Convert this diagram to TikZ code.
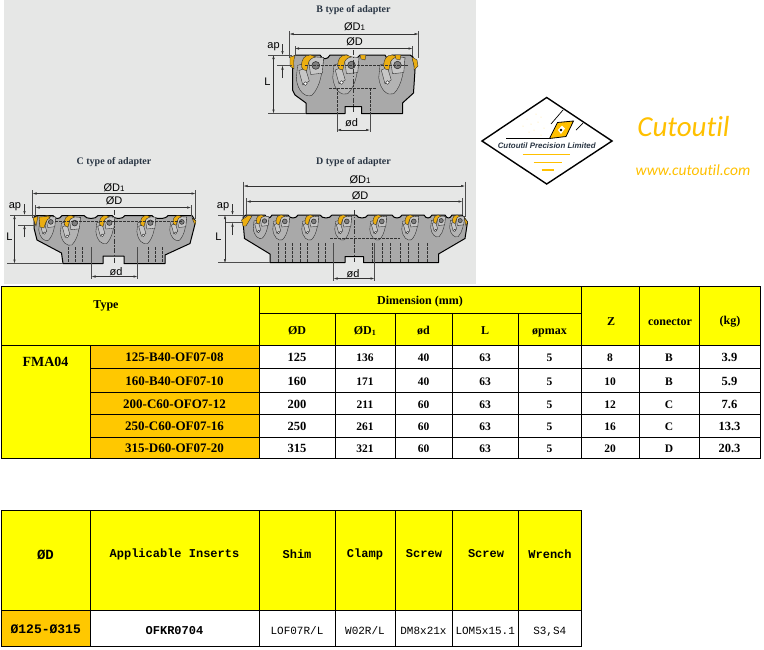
\documentclass[tikz,border=0pt]{standalone}
\usepackage{fontspec}
\setmainfont{Liberation Serif}
\setsansfont{Liberation Sans}
\setmonofont{Liberation Mono}
\newfontfamily\logofont[Ligatures=NoCommon]{Carlito}
\usetikzlibrary{arrows.meta}
\definecolor{panelgray}{HTML}{E6E7E6}
\definecolor{bodygray}{HTML}{A9A9A9}
\definecolor{pocketgray}{HTML}{B3B3B3}
\definecolor{seatgray}{HTML}{C6C6C6}
\definecolor{insertyellow}{HTML}{EBAE12}
\definecolor{headyellow}{HTML}{FFFF00}
\definecolor{typeorange}{HTML}{FFC800}
\definecolor{logoyellow}{HTML}{FFC000}
\definecolor{titleblue}{HTML}{2A3644}
\newcommand{\tcell}[7]{\node[#1,minimum width={(#5-#3)*1pt},minimum height={(#6-#4)*1pt}] (#2) at ({(#3+#5)/2},{(#4+#6)/2}) {#7};}
\begin{document}
\begin{tikzpicture}[x=1pt,y=-1pt,
	cellbox/.style={draw=black,line width=0.8pt,inner sep=0pt,text height=10pt,text depth=0pt,font=\fontsize{12}{12}\selectfont\bfseries},
	headcell/.style={cellbox,fill=headyellow},
	typecell/.style={cellbox,fill=typeorange},
	datacell/.style={cellbox,fill=white},
	monohead/.style={cellbox,fill=headyellow,font=\fontsize{12}{12}\selectfont\ttfamily\bfseries},
	monocell/.style={cellbox,fill=white,text height=12pt,font=\fontsize{11}{11}\selectfont\ttfamily\mdseries},
	celltext/.style={inner sep=0pt,font=\fontsize{12}{12}\selectfont\bfseries},
	adaptertitle/.style={inner sep=0pt,text=titleblue,font=\fontsize{10}{10}\selectfont\bfseries},
	dimtext/.style={inner sep=0pt,font=\fontsize{11}{11}\selectfont\sffamily},
	dimline/.style={line width=0.5pt,black!80,{Latex[length=4pt,width=2.4pt]}-{Latex[length=4pt,width=2.4pt]}},
	arrowline/.style={line width=0.5pt,black!80,-{Latex[length=4pt,width=2.4pt]}},
	extline/.style={line width=0.5pt,black!70},
	hiddenline/.style={line width=0.5pt,black!80,dash pattern=on 2.5pt off 1.5pt},
	centerline/.style={line width=0.5pt,black!80,dash pattern=on 5pt off 1.5pt on 1.5pt off 1.5pt},
	thinline/.style={line width=0.35pt,black!85},
	cutterbody/.style={line width=1pt,black,fill=bodygray,line join=round},
	pics/tooth/.style={code={
		\draw[thinline,fill=pocketgray] (12,2) .. controls (11,12) and (10,24) .. (3,31) .. controls (-2,33) and (-8,28) .. (-9,18) -- (-8,8) -- cycle;
		\draw[thinline,fill=seatgray] (0,1) -- (12,2) -- (11,14) -- (2,15) -- cycle;
		\draw[thinline,fill=seatgray] (-7,12) -- (-2,10) -- (1,20) -- (-4,23) -- cycle;
		\draw[thinline,fill=white] (-2,22) circle (1.5);
		\draw[line width=0.6pt,black!80,fill=gray] (6,8) circle (3);
		\draw[thinline,fill=insertyellow] (-5,9) .. controls (-5,3) and (-3,0) .. (2,0) -- (6,1.5) .. controls (3,2) and (0,4) .. (0,8) -- (-1,12) .. controls (-3,12) and (-5,11) .. cycle;
	}}]
	\useasboundingbox (0,0) rectangle (764,649);
	\fill[panelgray] (4,0) rectangle (476,284);

	% adapter B
	\node[adaptertitle] (titleb) at (353.5,10) {B type of adapter};
	\draw[cutterbody] (292.5,57) -- (296,55) foreach \xa/\xb in {320/330,347/360,385/392} { -- (\xa,55) .. controls +(2,5) and +(-2,5) .. (\xb,55) } -- (410,55) -- (413,57) -- (415,70) -- (413.5,93) -- (402.5,103) -- (402.5,113.5) -- (361.5,113.5) -- (361.5,106.5) -- (345,106.5) -- (345,113.5) -- (306,113.5) -- (306,103) -- (295,95) -- (292.5,90) -- cycle;
	\foreach \x/\s in {308/1.3,344/1.25,390/1.25} {
		\pic[scale=\s] at (\x,55) {tooth};
	}
	\draw[thinline,fill=insertyellow] (290,57) -- (295,55.5) .. controls +(-2,5) and +(0,-4) .. (294,69) -- (290,66) -- cycle;
	\draw[thinline,fill=insertyellow] (412,57) -- (417,60) -- (418,66) -- (414,70) .. controls +(1,-5) and +(0,4) .. cycle;
	\draw[thinline,fill=insertyellow] (360,55) -- (366,55) -- (365,60) -- (361,59) -- cycle;
	\draw[thinline,fill=insertyellow] (395,55) -- (401,55) -- (400,60) -- (396,59) -- cycle;
	\draw[hiddenline] (305,65) -- (408,65);
	\draw[hiddenline] (329,88) -- (377,88);
	\draw[hiddenline] (337,88) -- (337,113);
	\draw[hiddenline] (370,88) -- (370,113);
	\draw[centerline] (353.5,50) -- (353.5,113);
	\draw[extline] (289.5,31) -- (289.5,58);
	\draw[extline] (418.5,31) -- (418.5,58);
	\draw[dimline] (289.5,34) -- (418.5,34);
	\draw[extline] (295,46) -- (295,56);
	\draw[extline] (412.5,46) -- (412.5,56);
	\draw[dimline] (295,48.5) -- (412.5,48.5);
	\draw[extline] (268,55) -- (292,55);
	\draw[extline] (277,65.5) -- (292,65.5);
	\draw[arrowline] (282.5,44) -- (282.5,55);
	\draw[arrowline] (282.5,78) -- (282.5,65.5);
	\draw[dimline] (273.5,55) -- (273.5,113.5);
	\draw[extline] (268,113.5) -- (306,113.5);
	\draw[extline] (337,113) -- (337,132);
	\draw[extline] (370,113) -- (370,132);
	\draw[dimline] (337,130) -- (370,130);
	\node[dimtext] (bd1) at (354.5,26.5) {ØD{\fontsize{8}{8}\selectfont 1}};
	\node[dimtext] (bd) at (354.5,42) {ØD};
	\node[dimtext] (bap) at (273.5,47) {ap};
	\node[dimtext] (bl) at (267.5,82) {L};
	\node[dimtext] (bsd) at (351.5,123) {ød};

	% adapter C
	\node[adaptertitle] (titlec) at (114,162.5) {C type of adapter};
	\draw[cutterbody] (34,217) -- (37,215.5) foreach \xa/\xb in {53/62,84/98,112/125,152/168} { -- (\xa,215.5) .. controls +(2,4) and +(-2,4) .. (\xb,215.5) } -- (192,215.5) -- (195.5,221) -- (194,228) -- (190,243.5) -- (165,255) -- (165,263.5) -- (124,263.5) -- (124,256) -- (103,256) -- (103,263.5) -- (63,263.5) -- (61.5,253) -- (37,240) -- (34,228) -- cycle;
	\foreach \x/\s in {46/0.8,69/0.95,104/0.9,145/0.9,177/0.8} {
		\pic[scale=\s] at (\x,215.5) {tooth};
	}
	\draw[thinline,fill=insertyellow] (39,217) -- (48,216.5) -- (50,218) .. controls +(-4,1) and +(1,-3) .. (44,228) -- (40,227) -- cycle;
	\draw[thinline,fill=insertyellow] (33,218) -- (38,216) -- (36,226) -- cycle;
	\draw[thinline,fill=insertyellow] (192,218) -- (196,221) -- (195,225) -- cycle;
	\foreach \x in {68,75,82,91,137,148,155,162} {
		\draw[hiddenline] (\x,247) -- (\x,263);
	}
	\draw[hiddenline] (55,221.5) -- (182,221.5);
	\draw[centerline] (114,210) -- (114,263);
	\draw[extline] (32.5,190) -- (32.5,218);
	\draw[extline] (195.5,190) -- (195.5,219);
	\draw[dimline] (32.5,193.5) -- (195.5,193.5);
	\draw[extline] (35.5,205) -- (35.5,216);
	\draw[extline] (191,205) -- (191,216);
	\draw[dimline] (35.5,207.5) -- (191,207.5);
	\draw[extline] (10,215) -- (36,215);
	\draw[extline] (18,225) -- (35,225);
	\draw[arrowline] (24.5,204) -- (24.5,215);
	\draw[arrowline] (24.5,237) -- (24.5,225);
	\draw[dimline] (14.5,215) -- (14.5,263.5);
	\draw[extline] (7,263.5) -- (63,263.5);
	\draw[extline] (91.5,247) -- (91.5,279);
	\draw[extline] (137.5,247) -- (137.5,279);
	\draw[dimline] (91.5,276.5) -- (137.5,276.5);
	\node[dimtext] (cd1) at (114,187.5) {ØD{\fontsize{8}{8}\selectfont 1}};
	\node[dimtext] (cd) at (114,201) {ØD};
	\node[dimtext] (cap) at (15,206.5) {ap};
	\node[dimtext] (cl) at (9.5,237) {L};
	\node[dimtext] (csd) at (116,272) {ød};

	% adapter D
	\node[adaptertitle] (titled) at (353.5,162.5) {D type of adapter};
	\draw[cutterbody] (243,217) -- (246,215) foreach \xa/\xb in {265/272,288/298,320/332,356/368,392/402,424/432,445/452} { -- (\xa,215) .. controls +(2,4) and +(-2,4) .. (\xb,215) } -- (462,215) -- (467.5,222) -- (466,232) -- (465,238.5) -- (438.5,254) -- (438.5,262.5) -- (363.5,262.5) -- (363.5,256.5) -- (345,256.5) -- (345,262.5) -- (270,262.5) -- (270,254) -- (244.5,238.5) -- (243.5,227) -- cycle;
	\foreach \x/\s in {260/0.75,280/0.8,309/0.8,342/0.8,377/0.8,409/0.8,437/0.7,456/0.7} {
		\pic[scale=\s] at (\x,215) {tooth};
	}
	\draw[thinline,fill=insertyellow] (241.5,220) -- (248,215.5) -- (252,216) -- (246,226) -- (243,226) -- cycle;
	\draw[thinline,fill=insertyellow] (464,217) -- (467.5,222) -- (466,226) -- cycle;
	\foreach \x in {278,285,292,300,307,318,325,333,372,382,390,400,408,418,427} {
		\draw[hiddenline] (\x,243) -- (\x,262);
	}
	\draw[hiddenline] (330,238) -- (400,238);
	\draw[centerline] (354,210) -- (354,262);
	\draw[extline] (243.5,181.5) -- (243.5,217);
	\draw[extline] (465,181.5) -- (465,217);
	\draw[dimline] (243.5,186) -- (465,186);
	\draw[extline] (246.5,198) -- (246.5,215);
	\draw[extline] (462.5,198) -- (462.5,215);
	\draw[dimline] (246.5,201.5) -- (462.5,201.5);
	\draw[extline] (218,215) -- (244,215);
	\draw[extline] (226,222.5) -- (243,222.5);
	\draw[arrowline] (232.5,204) -- (232.5,215);
	\draw[arrowline] (232.5,235) -- (232.5,222.5);
	\draw[dimline] (225,215) -- (225,263);
	\draw[extline] (218,262.5) -- (270,262.5);
	\draw[extline] (333.5,243) -- (333.5,281);
	\draw[extline] (374.5,243) -- (374.5,281);
	\draw[dimline] (333.5,278.5) -- (374.5,278.5);
	\node[dimtext] (dd1) at (360,180) {ØD{\fontsize{8}{8}\selectfont 1}};
	\node[dimtext] (dd) at (360,195.5) {ØD};
	\node[dimtext] (dap) at (223,206.5) {ap};
	\node[dimtext] (dl) at (218.5,237) {L};
	\node[dimtext] (dsd) at (353,273.5) {ød};

	% logo
	\draw[line width=1.4pt,fill=white,line join=miter] (546.7,97.5) -- (612,141) -- (546.7,184) -- (482,141) -- cycle;
	\draw[line width=1.2pt] (506,138.5) -- (549,138.5);
	\foreach \x/\y in {527/119,531/124,534/130,538/122,541/117,536/114,529/132,544/128,523/126,541/135} {
		\fill[logoyellow!45] (\x,\y) circle (0.5);
	}
	\draw[line width=0.7pt] (551,124) -- (563,110);
	\draw[line width=0.7pt] (576,130) -- (583,123);
	\draw[line width=0.8pt,fill=logoyellow] (549.5,138.5) -- (557.5,122.5) -- (573.5,121) -- (566,136.5) -- cycle;
	\fill[white] (558,130) -- (562,125.5) -- (565,128.5) -- (561,134) -- cycle;
	\fill[black] (561,130) circle (1.4);
	\node[inner sep=0pt,font=\fontsize{7.9}{7.9}\selectfont\sffamily\bfseries\itshape,text=titleblue] (logoname) at (546.7,145.5) {Cutoutil Precision Limited};
	\draw[logoyellow,line width=1.4pt] (522.5,154.5) -- (570,154.5);
	\draw[logoyellow,line width=1.4pt] (533.5,162.5) -- (562,162.5);
	\draw[logoyellow,line width=1.4pt] (541.5,170) -- (553.5,170);
	\node[inner sep=0pt,text=logoyellow,font=\fontsize{29}{29}\selectfont\logofont\itshape] (brand) at (683.5,126.5) {Cutoutil};
	\node[inner sep=0pt,text=logoyellow,font=\fontsize{15.5}{15.5}\selectfont\logofont\itshape] (site) at (693,170.5) {www.cutoutil.com};

	% dimension table
	\tcell{headcell}{typehead}{1.5}{286}{259}{345}{}
	\tcell{headcell}{dimhead}{259}{286}{581}{313}{Dimension (mm)}
	\tcell{headcell}{dhead}{259}{313}{335}{345}{ØD}
	\tcell{headcell}{donehead}{335}{313}{395}{345}{ØD\textsubscript{1}}
	\tcell{headcell}{shead}{395}{313}{452}{345}{ød}
	\tcell{headcell}{lhead}{452}{313}{518}{345}{L}
	\tcell{headcell}{phead}{518}{313}{581}{345}{øpmax}
	\tcell{headcell}{zhead}{581}{286}{639}{345}{}
	\tcell{headcell}{conhead}{639}{286}{699}{345}{}
	\tcell{headcell}{kghead}{699}{286}{760}{345}{}
	\node[celltext] (typetext) at (106,306) {Type};
	\node[celltext] (ztext) at (611,322) {Z};
	\node[celltext] (context) at (670,322) {conector};
	\node[celltext] (kgtext) at (730,322) {(kg)};
	\tcell{headcell}{fma}{1.5}{345}{90}{458.5}{}
	\node[celltext,font=\fontsize{14}{14}\selectfont\bfseries] (fmatext) at (45.5,361.5) {FMA04};
	\foreach \nm/\ya/\yb/\ty/\dd/\da/\dc/\zz/\cc/\kg in {a/345/368/125-B40-OF07-08/125/136/40/8/B/3.9,
		b/368/392/160-B40-OF07-10/160/171/40/10/B/5.9,
		c/392/414/200-C60-OFO7-12/200/211/60/12/C/7.6,
		d/414/437/250-C60-OF07-16/250/261/60/16/C/13.3,
		e/437/458.5/315-D60-OF07-20/315/321/60/20/D/20.3} {
		\tcell{typecell}{type\nm}{90}{\ya}{259}{\yb}{\fontsize{13}{13}\selectfont\ty}
		\tcell{datacell}{dia\nm}{259}{\ya}{335}{\yb}{\fontsize{12.5}{12.5}\selectfont\dd}
		\tcell{datacell}{done\nm}{335}{\ya}{395}{\yb}{\fontsize{11.5}{11.5}\selectfont\da}
		\tcell{datacell}{shaft\nm}{395}{\ya}{452}{\yb}{\fontsize{11.5}{11.5}\selectfont\dc}
		\tcell{datacell}{len\nm}{452}{\ya}{518}{\yb}{\fontsize{11.5}{11.5}\selectfont 63}
		\tcell{datacell}{pmax\nm}{518}{\ya}{581}{\yb}{\fontsize{11.5}{11.5}\selectfont 5}
		\tcell{datacell}{teeth\nm}{581}{\ya}{639}{\yb}{\fontsize{11.5}{11.5}\selectfont\zz}
		\tcell{datacell}{con\nm}{639}{\ya}{699}{\yb}{\fontsize{11.5}{11.5}\selectfont\cc}
		\tcell{datacell}{mass\nm}{699}{\ya}{760}{\yb}{\fontsize{12.5}{12.5}\selectfont\kg}
	}

	% parts table
	\foreach \nm/\xa/\xb/\tx in {pa/1.5/90/{},pb/90/259/{},pc/259/335/{},pd/335/395/{},pe/395/452/{},pf/452/518.5/{},pg/518.5/581/{}} {
		\tcell{monohead}{\nm}{\xa}{510}{\xb}{610}{\tx}
	}
	\node[celltext,font=\fontsize{14}{14}\selectfont\ttfamily\bfseries] (patext) at (45.5,555) {ØD};
	\foreach \nm/\cx/\tx in {pb/174.5/Applicable Inserts,pc/297/Shim,pd/365/Clamp,pe/424/Screw,pf/486/Screw,pg/550/Wrench} {
		\node[celltext,font=\fontsize{12}{12}\selectfont\ttfamily\bfseries] (\nm text) at (\cx,554) {\tx};
	}
	\tcell{typecell}{qa}{1.5}{610}{90}{646}{\fontsize{13}{13}\selectfont\ttfamily Ø125-Ø315}
	\tcell{monocell}{qb}{90}{610}{259}{646}{\fontsize{12}{12}\selectfont\bfseries OFKR0704}
	\tcell{monocell}{qc}{259}{610}{335}{646}{LOF07R/L}
	\tcell{monocell}{qd}{335}{610}{395}{646}{W02R/L}
	\tcell{monocell}{qe}{395}{610}{452}{646}{DM8x21x}
	\tcell{monocell}{qf}{452}{610}{518.5}{646}{LOM5x15.1}
	\tcell{monocell}{qg}{518.5}{610}{581}{646}{S3,S4}
\end{tikzpicture}
\end{document}
